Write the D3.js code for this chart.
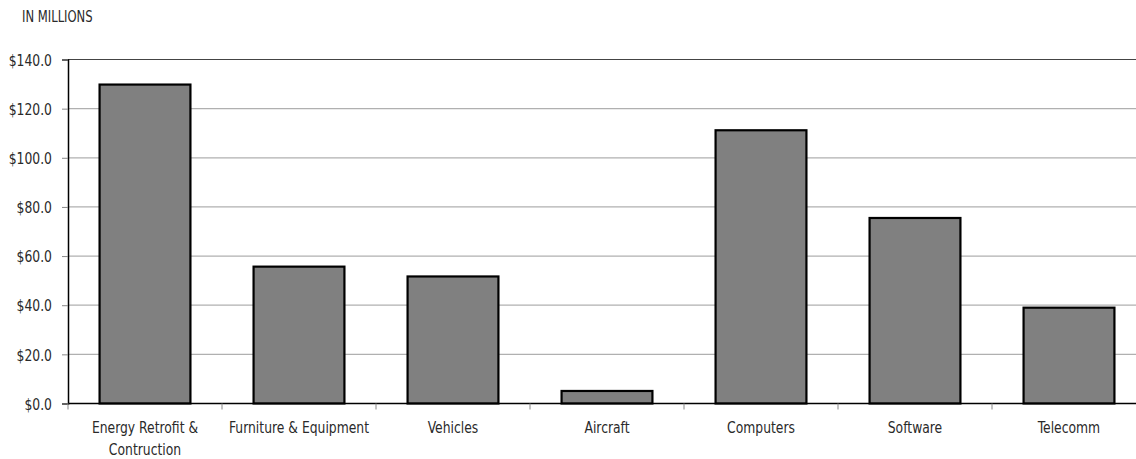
<!DOCTYPE html>
<html><head><meta charset="utf-8">
<script src="https://cdn.jsdelivr.net/npm/d3@7"></script>
<style>
body{margin:0;background:#fff;}
text{font-family:"DejaVu Sans Condensed","DejaVu Sans",sans-serif;font-stretch:condensed;fill:#2a2a2a;}
</style></head>
<body><svg id="c" width="1136" height="459"></svg>
<script>
const categories = ["Energy Retrofit & Contruction","Furniture & Equipment","Vehicles","Aircraft","Computers","Software","Telecomm"];
const labelLines = [["Energy Retrofit &","Contruction"],["Furniture & Equipment"],["Vehicles"],["Aircraft"],["Computers"],["Software"],["Telecomm"]];
const values = [129.8, 55.7, 51.7, 5.1, 111.2, 75.5, 39.0];
const yTicks = [0,20,40,60,80,100,120,140];
const unitLabel = "IN MILLIONS";

(function(){
const svg = d3.select("#c");
const SX = 0.86, FS = "16px";
const pLeft = 68, pRight = 1146, pTop = 59.5, pBottom = 403.5;
const x = d3.scaleBand().domain(categories).range([pLeft,pRight]).paddingInner(0.41).paddingOuter(0.205);
const y = d3.scaleLinear().domain([0,140]).range([pBottom,pTop]);

svg.append("g").selectAll("line").data(yTicks.filter(d=>d>0)).join("line")
  .attr("x1",pLeft).attr("x2",pRight).attr("y1",d=>y(d)).attr("y2",d=>y(d))
  .attr("stroke",d=>d===140?"#444":"#b0b0b0").attr("stroke-width",1.2);

const ya = svg.append("g").attr("transform",`translate(${pLeft},0)`)
  .call(d3.axisLeft(y).tickValues(yTicks).tickSize(6).tickPadding(10).tickFormat(d=>"$"+d3.format(".1f")(d)));
ya.select(".domain").attr("stroke","#000").attr("stroke-width",1.5);
ya.selectAll(".tick line").attr("stroke","#888");
ya.selectAll(".tick text").style("font-size",FS).attr("fill","#2a2a2a").style("font-family",null)
  .attr("x",0).attr("dy","0.36em").attr("transform",`translate(-16,0) scale(${SX},1)`);

svg.append("g").selectAll("rect").data(values).join("rect")
  .attr("x",(d,i)=>x(categories[i])).attr("width",x.bandwidth())
  .attr("y",d=>y(d)).attr("height",d=>pBottom-y(d))
  .attr("fill","#808080").attr("stroke","#000").attr("stroke-width",2.2);

svg.append("line").attr("x1",pLeft).attr("x2",pRight).attr("y1",pBottom).attr("y2",pBottom)
  .attr("stroke","#000").attr("stroke-width",1.5);
const bounds = categories.map((c,i)=>pLeft + i*x.step());
svg.append("g").selectAll("line").data(bounds).join("line")
  .attr("x1",d=>d).attr("x2",d=>d).attr("y1",pBottom).attr("y2",pBottom+6)
  .attr("stroke","#888");

const xl = svg.append("g").selectAll("text").data(categories).join("text")
  .attr("text-anchor","middle").style("font-size",FS)
  .attr("transform",d=>`translate(${x(d)+x.bandwidth()/2},433) scale(${SX},1)`);
xl.each(function(d,i){
  const t = d3.select(this);
  labelLines[i].forEach((ln,j)=>t.append("tspan").attr("x",0).attr("dy",j?22:0).text(ln));
});

svg.append("text").attr("transform",`translate(22,22) scale(${SX},1)`).style("font-size","15px").text(unitLabel);
})();
</script></body></html>
